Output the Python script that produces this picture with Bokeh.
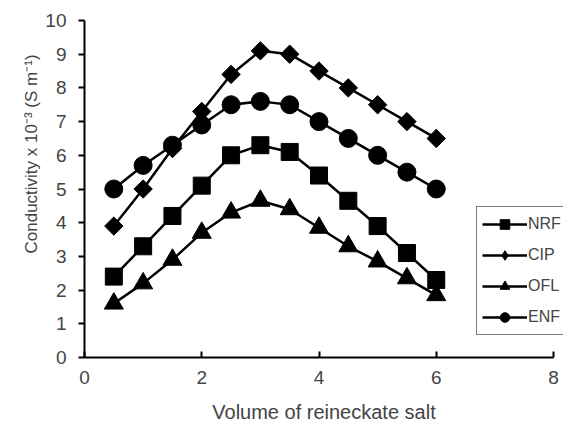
import math
from bokeh.plotting import figure
from bokeh.models import Legend, LegendItem, Range1d, FixedTicker, Title, LinearAxis
from bokeh.embed import file_html
from bokeh.resources import INLINE

x = [0.5, 1.0, 1.5, 2.0, 2.5, 3.0, 3.5, 4.0, 4.5, 5.0, 5.5, 6.0]
nrf = [2.4, 3.3, 4.2, 5.1, 6.0, 6.3, 6.1, 5.4, 4.65, 3.9, 3.1, 2.3]
cip = [3.9, 5.0, 6.2, 7.3, 8.4, 9.1, 9.0, 8.5, 8.0, 7.5, 7.0, 6.5]
ofl = [1.6, 2.2, 2.9, 3.7, 4.3, 4.65, 4.4, 3.85, 3.3, 2.85, 2.35, 1.85]
enf = [5.0, 5.7, 6.3, 6.9, 7.5, 7.6, 7.5, 7.0, 6.5, 6.0, 5.5, 5.0]
x_ticks = [0, 2, 4, 6, 8]
y_ticks = [0, 1, 2, 3, 4, 5, 6, 7, 8, 9, 10]
x_title = "Volume of reineckate salt"
y_title = "Conductivity x 10⁻³ (S m⁻¹)"

FONT = "Liberation Sans"

# frame spans 479px; axis 0..8 covers 469px of it
p = figure(width=563, height=430, output_backend="svg", toolbar_location=None,
           x_range=Range1d(0, 8 * 479 / 469), y_range=Range1d(0, 10),
           min_border_left=84, min_border_right=0, min_border_top=20, min_border_bottom=73)
p.outline_line_color = None
p.grid.visible = False

nan = float("nan")
items = []
for name, ys, marker, size, angle, leg_marker, leg_size in [
        ("NRF", nrf, "square", 17, 0, "square", 9),
        ("CIP", cip, "square", 13, math.pi / 4, "diamond", 11),
        ("OFL", ofl, "triangle", 19, 0, "triangle", 10),
        ("ENF", enf, "circle", 18, 0, "circle", 9)]:
    p.line(x, ys, line_color="black", line_width=2.5)
    p.scatter(x, ys, marker=marker, size=size, angle=angle, fill_color="black", line_color="black")
    ll = p.line([nan], [nan], line_color="black", line_width=2.5)
    ls = p.scatter([nan], [nan], marker=leg_marker, size=leg_size, fill_color="black", line_color="black")
    items.append(LegendItem(label=name, renderers=[ll, ls]))

legend = Legend(items=items, location=(392, 22), border_line_color="black", border_line_width=1.5,
                label_text_font=FONT, label_text_font_size="16px", glyph_width=45, glyph_height=24,
                spacing=7, padding=5, margin=0, label_standoff=1, background_fill_alpha=1)
p.add_layout(legend, "center")

for ax in (p.xaxis[0], p.yaxis[0]):
    ax.axis_line_width = 2
    ax.major_tick_line_width = 2
    ax.minor_tick_line_color = None
    ax.major_label_text_font = FONT
    ax.major_label_text_font_size = "19px"

p.xaxis[0].bounds = (0, 8)
p.xaxis[0].ticker = FixedTicker(ticks=x_ticks)
p.yaxis[0].ticker = FixedTicker(ticks=y_ticks)
p.xaxis[0].major_tick_in = 6
p.xaxis[0].major_tick_out = 0
p.xaxis[0].major_label_standoff = 13
p.yaxis[0].major_tick_in = 0
p.yaxis[0].major_tick_out = 6
p.yaxis[0].major_label_standoff = 12

# invisible second axis that only carries the x title, centred a little left of the axis centre
title_axis = LinearAxis(ticker=FixedTicker(ticks=[]), bounds=(0, 7.2),
                        axis_line_color=None, major_tick_line_color=None, minor_tick_line_color=None,
                        major_label_text_font_size="0px",
                        axis_label=x_title, axis_label_standoff=14, axis_label_text_font=FONT,
                        axis_label_text_font_size="20px", axis_label_text_font_style="normal")
p.add_layout(title_axis, "below")

yt = Title(text=y_title, align="left", offset=104, text_font=FONT, text_font_size="17px",
           text_font_style="normal", standoff=4)
p.add_layout(yt, "left")

open("out.html", "w").write(file_html(p, INLINE))
